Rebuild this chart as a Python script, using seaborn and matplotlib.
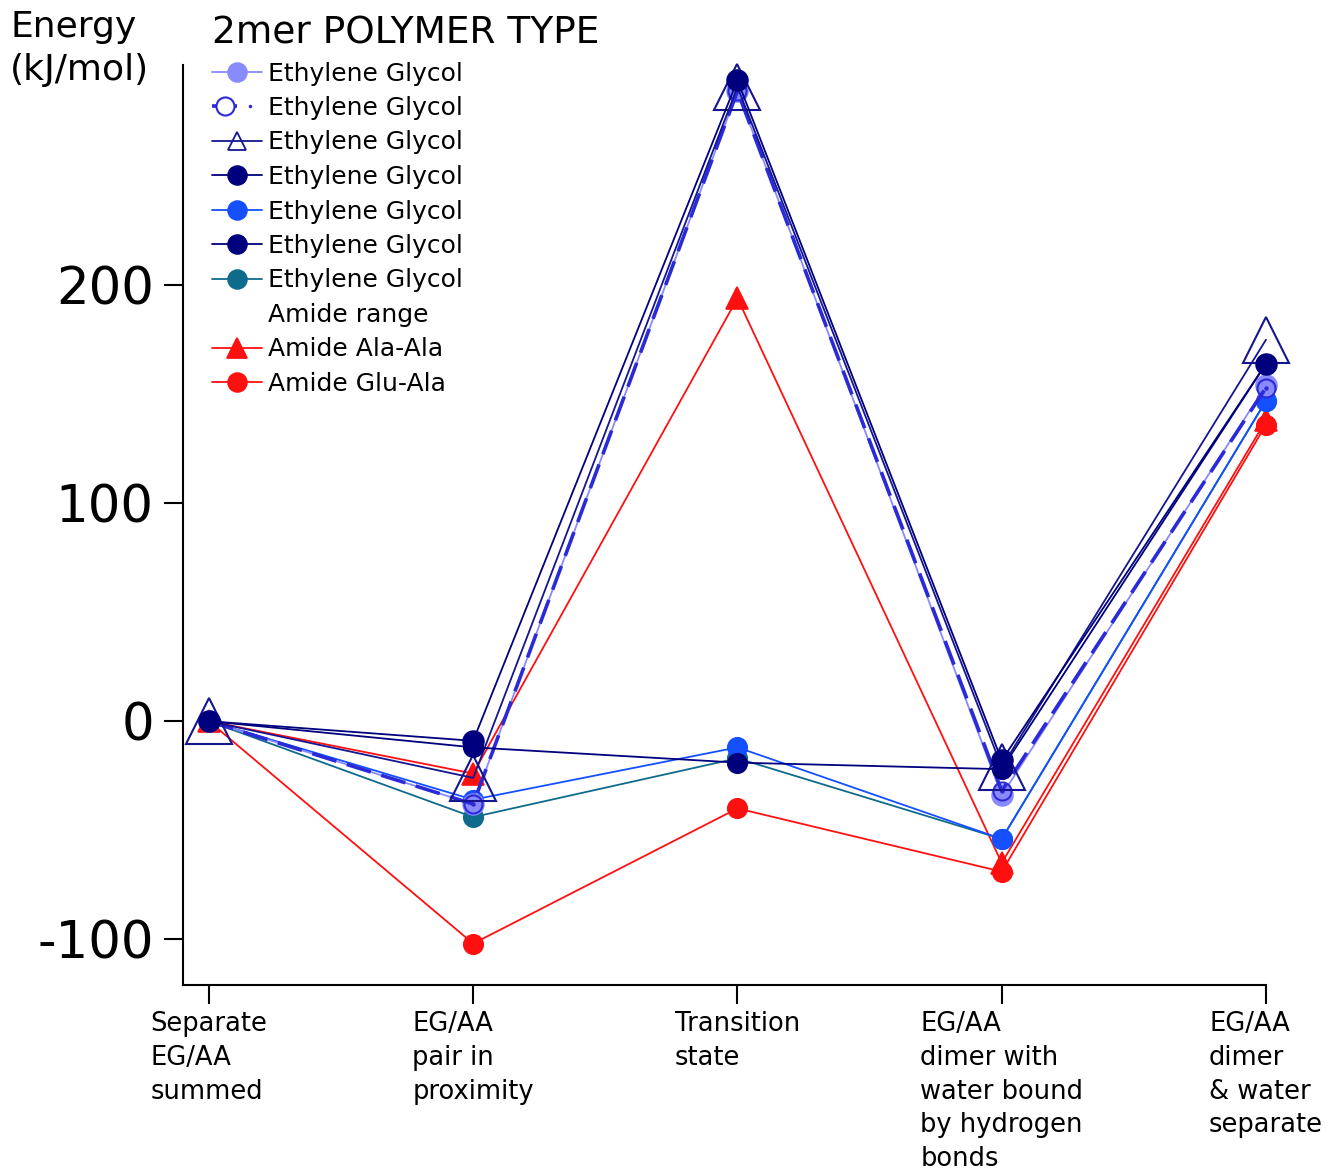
import matplotlib
matplotlib.use("Agg")
import matplotlib.pyplot as plt
from matplotlib.lines import Line2D
from matplotlib.legend_handler import HandlerTuple
import seaborn as sns


# reaction stages along x
stage_labels = [
    "Separate\nEG/AA\nsummed",
    "EG/AA\npair in\nproximity",
    "Transition\nstate",
    "EG/AA\ndimer with\nwater bound\nby hydrogen\nbonds",
    "EG/AA\ndimer\n& water\nseparate",
]
xpos = [0, 1, 2, 3, 4]

# energies, kJ/mol
eg1 = [0, -38, 289, -34, 154]
eg2 = [0, -38, 289, -32, 153]
eg3 = [0, -26, 291, -21, 175]
eg4 = [0, -9, 294, -18, 164]
eg5 = [0, -36, -12, -54, 147]
eg6 = [0, -12, -19, -22, 164]
eg7 = [0, -44, -17, -54, 147]
ala_ala = [0, -24, 194, -65, 138]
glu_ala = [0, -102, -40, -69, 136]

C_LIGHT = "#8a8aff"
C_DASH = "#2a2ad8"
C_NAVY = "#15158f"
C_NAVY2 = "#00007e"
C_BRIGHT = "#1450ff"
C_TEAL = "#0f6b8c"
C_RED = "#ff1010"


def draw(ax, values, color, marker, ms, lw, mfc=None, mew=1.2, dashes=None, z=2):
    sns.lineplot(
        x=xpos, y=values, ax=ax, color=color, marker=marker,
        markersize=ms, markerfacecolor=color if mfc is None else mfc,
        markeredgecolor=color, markeredgewidth=mew, linewidth=lw,
        zorder=z, clip_on=False, sort=False, estimator=None,
    )
    line = ax.lines[-1]
    if dashes:
        line.set_dashes(dashes)
    return line


def main():
    sns.set_theme(style="ticks")
    plt.rcParams["font.family"] = ["DejaVu Sans"]
    plt.rcParams["text.color"] = "black"
    plt.rcParams["axes.labelcolor"] = "black"
    plt.rcParams["xtick.color"] = "black"
    plt.rcParams["ytick.color"] = "black"
    plt.rcParams["axes.unicode_minus"] = False

    fig = plt.figure(figsize=(13.3, 11.69), dpi=100)
    ax = fig.add_axes([183 / 1330, 184 / 1169, (1266 - 183) / 1330, (985 - 65) / 1169])

    draw(ax, ala_ala, C_RED, "^", 16, 1.3, z=2)
    draw(ax, glu_ala, C_RED, "o", 14, 1.3, z=2)
    draw(ax, eg7, C_TEAL, "o", 14, 1.3, z=3)
    draw(ax, eg5, C_BRIGHT, "o", 14, 1.3, z=3)
    draw(ax, eg1, C_LIGHT, "o", 15, 1.3, z=4)
    draw(ax, eg2, C_DASH, "o", 13, 2.6, mfc="none", mew=1.5, dashes=[7, 3], z=5)
    sns.scatterplot(x=xpos, y=eg2, ax=ax, color=C_DASH, s=10, linewidth=0,
                    zorder=5, clip_on=False, legend=False)
    draw(ax, eg3, C_NAVY, "^", 33, 1.3, mfc="none", mew=1.5, z=6)
    draw(ax, eg6, C_NAVY2, "o", 14, 1.3, z=7)
    draw(ax, eg4, C_NAVY2, "o", 15, 1.3, z=8)

    ax.set_xlim(-0.098, 4.0)
    ax.set_ylim(-121, 301)
    ax.set_yticks([-100, 0, 100, 200])
    ax.set_xticks(xpos)
    ax.set_xticklabels(stage_labels, ha="center", multialignment="left",
                       linespacing=1.38, fontsize=18.5)
    ax.tick_params(axis="y", labelsize=37, length=14, width=1.5, pad=7)
    ax.tick_params(axis="x", length=14, width=1.5, pad=5)
    sns.despine(ax=ax)
    for side in ("left", "bottom"):
        ax.spines[side].set_linewidth(1.5)
        ax.spines[side].set_color("black")

    fig.text(10 / 1330, 1 - 10 / 1169, "Energy\n(kJ/mol)", ha="left", va="top",
             fontsize=26, linespacing=1.35)

    def proxy(color, marker, ms, lw, mfc=None):
        return Line2D([], [], color=color, marker=marker, markersize=ms,
                      markerfacecolor=color if mfc is None else mfc,
                      markeredgecolor=color, markeredgewidth=1.3, linewidth=lw)

    dash_line = Line2D([], [], color=C_DASH, linewidth=2.6, dashes=[7, 3],
                       marker="o", markersize=13, markerfacecolor="white",
                       markeredgecolor=C_DASH, markeredgewidth=1.5)
    dash_dot = Line2D([], [], color=C_DASH, marker=".", markersize=3, linestyle="none")
    blank = Line2D([], [], color="none", linestyle="none")

    handles = [
        proxy(C_LIGHT, "o", 13.5, 1.3),
        (dash_line, dash_dot),
        proxy(C_NAVY, "^", 13.5, 1.3, mfc="none"),
        proxy(C_NAVY2, "o", 13.5, 1.3),
        proxy(C_BRIGHT, "o", 13.5, 1.3),
        proxy(C_NAVY2, "o", 13.5, 1.3),
        proxy(C_TEAL, "o", 13.5, 1.3),
        blank,
        proxy(C_RED, "^", 14, 1.3),
        proxy(C_RED, "o", 13.5, 1.3),
    ]
    labels = ["Ethylene Glycol"] * 7 + ["Amide range", "Amide Ala-Ala", "Amide Glu-Ala"]
    fig.legend(
        handles, labels, loc="upper left",
        bbox_to_anchor=(212 / 1330, 1 - 15 / 1169),
        frameon=False, fontsize=18, title="2mer POLYMER TYPE",
        title_fontsize=27, alignment="left", handlelength=2.0,
        handletextpad=0.25, labelspacing=0.42, borderpad=0, borderaxespad=0,
        handler_map={tuple: HandlerTuple(ndivide=None)},
    )

    fig.savefig("out.png", dpi=100)
    plt.close(fig)


if __name__ == "__main__":
    main()
